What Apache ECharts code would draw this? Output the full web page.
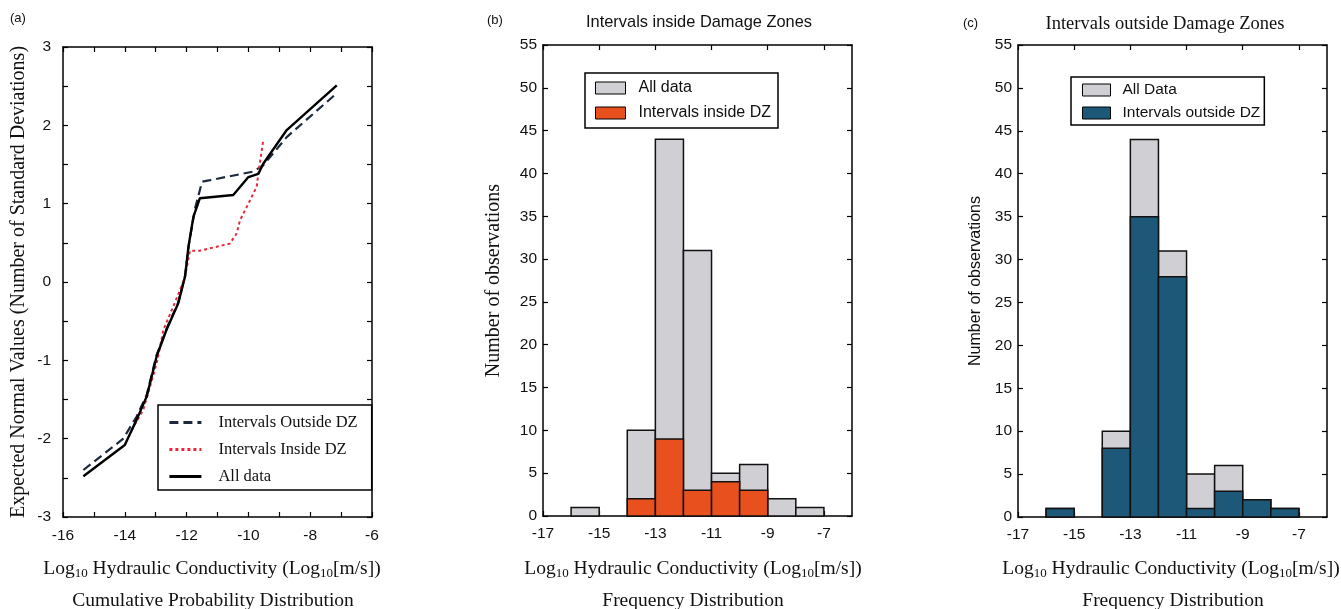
<!DOCTYPE html>
<html>
<head>
<meta charset="utf-8">
<script src="https://cdn.jsdelivr.net/npm/echarts@6/dist/echarts.min.js"></script>
<style>html,body{margin:0;padding:0;background:#fff;}#c{width:1341px;height:609px;}</style>
</head>
<body>
<div id="c"></div>
<script>
// ---------- Panel (a): cumulative probability (normal probability plot) ----------
var allX = [-15.34, -14.0, -13.62, -13.29, -12.97, -12.65, -12.27, -12.05, -11.94, -11.78, -11.57, -10.49, -10.0, -9.68, -9.52, -8.76, -7.14];
var allY = [-2.48, -2.08, -1.76, -1.46, -0.95, -0.61, -0.27, 0.07, 0.45, 0.83, 1.07, 1.11, 1.34, 1.38, 1.51, 1.94, 2.51];
var outX = [-15.34, -14.05, -13.62, -13.29, -12.97, -12.65, -12.27, -12.05, -11.92, -11.72, -11.5, -11.24, -9.84, -9.52, -8.76, -7.14];
var outY = [-2.40, -2.00, -1.72, -1.44, -0.93, -0.60, -0.26, 0.08, 0.50, 0.95, 1.28, 1.30, 1.41, 1.49, 1.85, 2.41];
var inX = [-13.78, -13.4, -12.97, -12.75, -12.43, -12.21, -12.05, -11.89, -11.57, -10.6, -10.38, -10.27, -10.0, -9.73, -9.68, -9.52];
var inY = [-1.89, -1.63, -1.04, -0.61, -0.31, -0.10, 0.07, 0.40, 0.40, 0.49, 0.62, 0.79, 1.0, 1.22, 1.38, 1.81];

// ---------- Panels (b), (c): frequency histograms (bin width 1) ----------
var binStart = [-16, -14, -13, -12, -11, -10, -9, -8];
var binEnd = [-15, -13, -12, -11, -10, -9, -8, -7];
var allCounts = [1, 10, 44, 31, 5, 6, 2, 1];
var insideCounts = [0, 2, 9, 3, 4, 3, 0, 0];
var outsideCounts = [1, 8, 35, 28, 1, 3, 2, 1];

var histTicks = [-17, -15, -13, -11, -9, -7];

var SERIF = 'Liberation Serif';
var SANS = 'Liberation Sans';

function pairs(xs, ys) { return xs.map(function (x, i) { return [x, ys[i]]; }); }
function bins(counts) { return counts.map(function (c, i) { return [binStart[i], binEnd[i], c]; }); }

function renderBin(params, api) {
  var p0 = api.coord([api.value(0), api.value(2)]);
  var p1 = api.coord([api.value(1), 0]);
  if (api.value(2) <= 0) return null;
  return {
    type: 'rect',
    shape: { x: p0[0], y: p0[1], width: p1[0] - p0[0], height: p1[1] - p0[1] },
    style: api.style()
  };
}

var axisLine = { show: true, onZero: false, lineStyle: { color: '#000', width: 1.5 } };
var tickStyle = { show: true, inside: true, length: 5, lineStyle: { color: '#000', width: 1.2 } };
var minorStyle = { show: true, splitNumber: 2, length: 5, lineStyle: { color: '#000', width: 1.2 } };
var lbl = { color: '#111', fontFamily: SANS, fontSize: 15.5 };

function xMain(grid, min, max, extra) {
  var o = { type: 'value', gridIndex: grid, position: 'bottom', min: min, max: max,
    axisLine: axisLine, splitLine: { show: false },
    axisTick: Object.assign({}, tickStyle), axisLabel: Object.assign({ margin: 11 }, lbl) };
  return Object.assign(o, extra || {});
}
function xMirror(grid, min, max, extra) {
  var o = { type: 'value', gridIndex: grid, position: 'top', min: min, max: max,
    axisLine: axisLine, splitLine: { show: false },
    axisTick: Object.assign({}, tickStyle), axisLabel: { show: false } };
  return Object.assign(o, extra || {});
}

var histXLabel = Object.assign({ margin: 10, customValues: histTicks }, lbl);
var histXTick = Object.assign({ customValues: histTicks }, tickStyle);

var xNameRich = {
  n: { fontFamily: SERIF, fontSize: 19.5, fontWeight: 'normal', color: '#111' },
  s: { fontFamily: SERIF, fontSize: 13, fontWeight: 'normal', color: '#111', padding: [9, 0, 0, 0] }
};
var xNameText = '{n|Log}{s|10}{n| Hydraulic Conductivity (Log}{s|10}{n|[m/s])}';
var subTitleStyle = { fontFamily: SERIF, fontSize: 19.5, fontWeight: 'normal', color: '#111' };

var option = {
  animation: false,
  backgroundColor: '#fff',
  title: [
    { text: '(a)', left: 5, top: 7, textStyle: { fontFamily: SANS, fontSize: 13, fontWeight: 'normal', color: '#111' } },
    { text: '(b)', left: 482, top: 9, textStyle: { fontFamily: SANS, fontSize: 13, fontWeight: 'normal', color: '#111' } },
    { text: '(c)', left: 958, top: 12, textStyle: { fontFamily: SANS, fontSize: 13, fontWeight: 'normal', color: '#111' } },
    { text: 'Intervals inside Damage Zones', left: 694, top: 9, textAlign: 'center', textStyle: { fontFamily: SANS, fontSize: 16.4, fontWeight: 'normal', color: '#111' } },
    { text: 'Intervals outside Damage Zones', left: 1160, top: 10, textAlign: 'center', textStyle: { fontFamily: SERIF, fontSize: 18.5, fontWeight: 'normal', color: '#111' } },
    // x-axis names
    { text: xNameText, left: 207, top: 553, textAlign: 'center', textStyle: { rich: xNameRich } },
    { text: 'Cumulative Probability Distribution', left: 208, top: 586, textAlign: 'center', textStyle: subTitleStyle },
    { text: xNameText, left: 688, top: 553, textAlign: 'center', textStyle: { rich: xNameRich } },
    { text: 'Frequency Distribution', left: 688, top: 586, textAlign: 'center', textStyle: subTitleStyle },
    { text: xNameText, left: 1166, top: 553, textAlign: 'center', textStyle: { rich: xNameRich } },
    { text: 'Frequency Distribution', left: 1168, top: 586, textAlign: 'center', textStyle: subTitleStyle }
  ],
  grid: [
    { left: 63, top: 47, width: 309, height: 470 },
    { left: 543, top: 45, width: 309, height: 471 },
    { left: 1018, top: 45, width: 309, height: 472 }
  ],
  legend: [
    { orient: 'vertical', left: 158, top: 405,
      data: ['Intervals Outside DZ', 'Intervals Inside DZ', 'All data'],
      itemWidth: 32, itemHeight: 14, itemGap: 10,
      itemStyle: { opacity: 0 }, lineStyle: { width: 2.8 },
      padding: [9, 14, 5, 10], borderColor: '#000', borderWidth: 1.5, borderRadius: 0, backgroundColor: '#fff',
      textStyle: { fontFamily: SERIF, fontSize: 16.5, color: '#111', padding: [0, 0, 0, 12] } },
    { orient: 'vertical', left: 585, top: 73,
      data: [{ name: 'All data ', icon: 'rect' }, { name: 'Intervals inside DZ', icon: 'rect' }],
      itemWidth: 30, itemHeight: 12, itemGap: 9,
      padding: [7, 7, 7, 10], borderColor: '#000', borderWidth: 1.5, borderRadius: 0, backgroundColor: '#fff',
      itemStyle: { borderColor: '#000', borderWidth: 1 },
      textStyle: { fontFamily: SANS, fontSize: 16, color: '#111', padding: [0, 0, 0, 8] } },
    { orient: 'vertical', left: 1071, top: 77,
      data: [{ name: 'All Data', icon: 'rect' }, { name: 'Intervals outside DZ', icon: 'rect' }],
      itemWidth: 28, itemHeight: 12, itemGap: 7,
      padding: [5, 4, 4, 11], borderColor: '#000', borderWidth: 1.5, borderRadius: 0, backgroundColor: '#fff',
      itemStyle: { borderColor: '#000', borderWidth: 1 },
      textStyle: { fontFamily: SANS, fontSize: 15.5, color: '#111', padding: [0, 0, 0, 7] } }
  ],
  xAxis: [
    xMain(0, -16, -6, { interval: 2, minorTick: minorStyle }),
    xMirror(0, -16, -6, { interval: 2, minorTick: minorStyle }),
    xMain(1, -17, -6, { axisLabel: histXLabel, axisTick: histXTick }),
    xMirror(1, -17, -6, { axisTick: histXTick }),
    xMain(2, -17, -6, { axisLabel: histXLabel, axisTick: histXTick }),
    xMirror(2, -17, -6, { axisTick: histXTick })
  ],
  yAxis: [
    { type: 'value', gridIndex: 0, position: 'left', min: -3, max: 3, interval: 1,
      axisLine: axisLine, splitLine: { show: false }, axisTick: tickStyle, minorTick: minorStyle,
      axisLabel: Object.assign({ margin: 12 }, lbl),
      name: 'Expected Normal Values (Number of Standard Deviations)', nameLocation: 'middle', nameGap: 34,
      nameTextStyle: { fontFamily: SERIF, fontSize: 20, color: '#111' } },
    { type: 'value', gridIndex: 0, position: 'right', min: -3, max: 3, interval: 1,
      axisLine: axisLine, splitLine: { show: false }, axisTick: tickStyle, minorTick: minorStyle, axisLabel: { show: false } },
    { type: 'value', gridIndex: 1, position: 'left', min: 0, max: 55, interval: 5,
      axisLine: axisLine, splitLine: { show: false }, axisTick: tickStyle,
      axisLabel: Object.assign({ margin: 6 }, lbl),
      name: 'Number of observations', nameLocation: 'middle', nameGap: 39,
      nameTextStyle: { fontFamily: SERIF, fontSize: 20, color: '#111' } },
    { type: 'value', gridIndex: 1, position: 'right', min: 0, max: 55, interval: 5,
      axisLine: axisLine, splitLine: { show: false }, axisTick: tickStyle, axisLabel: { show: false } },
    { type: 'value', gridIndex: 2, position: 'left', min: 0, max: 55, interval: 5,
      axisLine: axisLine, splitLine: { show: false }, axisTick: tickStyle,
      axisLabel: Object.assign({ margin: 6 }, lbl),
      name: 'Number of observations', nameLocation: 'middle', nameGap: 34,
      nameTextStyle: { fontFamily: SANS, fontSize: 16, color: '#111' } },
    { type: 'value', gridIndex: 2, position: 'right', min: 0, max: 55, interval: 5,
      axisLine: axisLine, splitLine: { show: false }, axisTick: tickStyle, axisLabel: { show: false } }
  ],
  series: [
    { name: 'Intervals Outside DZ', type: 'line', xAxisIndex: 0, yAxisIndex: 0, data: pairs(outX, outY),
      symbol: 'circle', showSymbol: false, color: '#1c2a3c', lineStyle: { color: '#1c2a3c', width: 2.2, type: [9, 5] }, z: 3 },
    { name: 'Intervals Inside DZ', type: 'line', xAxisIndex: 0, yAxisIndex: 0, data: pairs(inX, inY),
      symbol: 'circle', showSymbol: false, color: '#e8283a', lineStyle: { color: '#e8283a', width: 2, type: [3, 3] }, z: 4 },
    { name: 'All data', type: 'line', xAxisIndex: 0, yAxisIndex: 0, data: pairs(allX, allY),
      symbol: 'circle', showSymbol: false, color: '#000', lineStyle: { color: '#000', width: 2.4 }, z: 5 },

    { name: 'All data ', type: 'custom', xAxisIndex: 2, yAxisIndex: 2, data: bins(allCounts), renderItem: renderBin,
      itemStyle: { color: '#cfcfd4', borderColor: '#111', borderWidth: 1.5 }, encode: { x: [0, 1], y: 2 }, z: 2 },
    { name: 'Intervals inside DZ', type: 'custom', xAxisIndex: 2, yAxisIndex: 2, data: bins(insideCounts), renderItem: renderBin,
      itemStyle: { color: '#e8501e', borderColor: '#111', borderWidth: 1.5 }, encode: { x: [0, 1], y: 2 }, z: 3 },

    { name: 'All Data', type: 'custom', xAxisIndex: 4, yAxisIndex: 4, data: bins(allCounts), renderItem: renderBin,
      itemStyle: { color: '#cfcfd4', borderColor: '#111', borderWidth: 1.5 }, encode: { x: [0, 1], y: 2 }, z: 2 },
    { name: 'Intervals outside DZ', type: 'custom', xAxisIndex: 4, yAxisIndex: 4, data: bins(outsideCounts), renderItem: renderBin,
      itemStyle: { color: '#1d5878', borderColor: '#111', borderWidth: 1.5 }, encode: { x: [0, 1], y: 2 }, z: 3 }
  ]
};

var chart = echarts.init(document.getElementById('c'), null, { renderer: 'canvas' });
chart.setOption(option);
</script>
</body>
</html>
